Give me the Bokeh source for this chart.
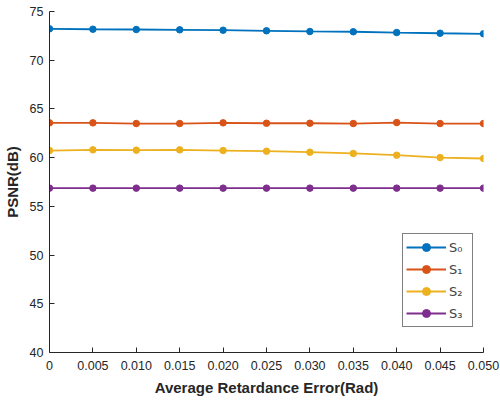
from bokeh.plotting import figure
from bokeh.models import Legend, LegendItem, FixedTicker, Range1d
from bokeh.embed import file_html
from bokeh.resources import INLINE

x = [0, 0.005, 0.010, 0.015, 0.020, 0.025, 0.030, 0.035, 0.040, 0.045, 0.050]
s0 = [73.22, 73.18, 73.15, 73.12, 73.08, 73.02, 72.95, 72.92, 72.84, 72.77, 72.71]
s1 = [63.57, 63.57, 63.50, 63.50, 63.57, 63.53, 63.53, 63.50, 63.60, 63.50, 63.50]
s2 = [60.73, 60.80, 60.77, 60.80, 60.73, 60.66, 60.56, 60.43, 60.25, 60.01, 59.91]
s3 = [56.87, 56.87, 56.87, 56.87, 56.87, 56.87, 56.87, 56.87, 56.87, 56.87, 56.87]
labels = ["S\u2080", "S\u2081", "S\u2082", "S\u2083"]
colors = ["#0072BD", "#D95319", "#EDB120", "#7E2F8E"]
x_ticks = x
x_tick_labels = ["0", "0.005", "0.010", "0.015", "0.020", "0.025", "0.030", "0.035", "0.040", "0.045", "0.050"]
y_ticks = [40, 45, 50, 55, 60, 65, 70, 75]

FONT = "Liberation Sans"

p = figure(width=500, height=402, output_backend="svg", toolbar_location=None,
           x_range=Range1d(0, 0.05), y_range=Range1d(40, 75),
           min_border_left=48, min_border_right=17, min_border_top=11, min_border_bottom=50)
p.outline_line_color = None
p.grid.visible = False
p.background_fill_color = "white"

items = []
for ys, lab, c in zip([s0, s1, s2, s3], labels, colors):
    r1 = p.line(x, ys, line_color=c, line_width=1.8)
    r2 = p.scatter(x, ys, size=6.5, fill_color=c, line_color=c)
    items.append(LegendItem(label=lab, renderers=[r1, r2]))

for ax in (p.xaxis[0], p.yaxis[0]):
    ax.major_tick_in = 5
    ax.major_tick_out = 0
    ax.minor_tick_in = 0
    ax.minor_tick_out = 0
    ax.axis_line_color = "#262626"
    ax.major_tick_line_color = "#262626"
    ax.major_label_text_font = FONT
    ax.major_label_text_font_size = "12.5px"
    ax.major_label_text_color = "#262626"
    ax.axis_label_text_font = FONT
    ax.axis_label_text_font_style = "bold"
    ax.axis_label_text_font_size = "15px"
    ax.axis_label_text_color = "#262626"

p.xaxis.ticker = FixedTicker(ticks=x_ticks)
p.xaxis.major_label_overrides = {t: l for t, l in zip(x_ticks, x_tick_labels)}
p.yaxis.ticker = FixedTicker(ticks=y_ticks)
p.xaxis.axis_label = "Average Retardance Error(Rad)"
p.yaxis.axis_label = "PSNR(dB)"
p.xaxis.major_label_standoff = 8
p.yaxis.major_label_standoff = 6
p.xaxis.axis_label_standoff = 6
p.yaxis.axis_label_standoff = 6

legend = Legend(items=items, location=(353, 25), glyph_width=40, glyph_height=20,
                label_height=20, spacing=2, padding=3, margin=0, label_standoff=3,
                border_line_color="black", border_line_width=1,
                label_text_font="DejaVu Sans", label_text_font_size="13px",
                background_fill_color="white", background_fill_alpha=1)
p.add_layout(legend)

open("out.html", "w").write(file_html(p, INLINE))
